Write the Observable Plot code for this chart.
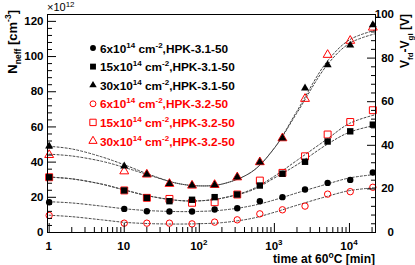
<!DOCTYPE html>
<html><head><meta charset="utf-8">
<script src="https://cdn.jsdelivr.net/npm/d3@7"></script>
<script src="https://cdn.jsdelivr.net/npm/@observablehq/plot@0.6"></script>
<style>
body{margin:0;background:#fff}
svg{font-family:"Liberation Sans",Arial,sans-serif;}
</style>
</head><body><div id="chart"></div>
<script>
// annealing times [min]
const times = [1, 10, 20, 40, 80, 160, 320, 640, 1280, 2560, 5120, 10240, 20480];
// Neff [1e12 cm^-3]
const circ31 = [17.2, 13.4, 12.1, 11.9, 11.9, 13.1, 13.8, 17.8, 20.1, 24.4, 28.2, 29.9, 34.1];
const sq31   = [31.4, 23.9, 19.7, 17.8, 18.6, 20.1, 21.6, 26.7, 33.4, 40.2, 51.7, 57.5, 61.3];
const tri31  = [49.0, 37.7, 33.0, 27.7, 26.7, 27.1, 31.4, 40.0, 53.6, 82.0, 95.3, 106.4, 118.0];
const circ32 = [9.7, 5.3, 5.3, 5.3, 4.9, 5.9, 7.2, 10.6, 12.9, 15.0, 21.8, 23.2, 25.7];
const sq32   = [31.4, 23.9, 19.7, 19.1, 16.9, 17.2, 21.6, 29.5, 33.9, 43.3, 55.7, 62.8, 69.5];
const tri32  = [44.1, 34.8, 33.0, 27.7, 26.7, 27.1, 31.4, 40.0, 53.6, 76.0, 101.0, 109.0, 116.5];

// fit curves
const fitTimes = [1, 2, 5, 10, 20, 50, 100, 200, 500, 1000, 2000, 5000, 10000, 22230];
const fitTri31  = [49, 47.5, 43, 38.5, 33.5, 28, 26.5, 27.5, 34.5, 48, 68, 95, 107.5, 113];
const fitTri32  = [44.5, 43.5, 40.5, 37, 33, 28, 26.5, 27.5, 34.5, 48, 69, 97, 109.5, 115];
const fitSq31   = [31.5, 30.5, 27.5, 24.2, 21, 18.3, 18, 19.5, 24, 31, 38.5, 50, 57, 61];
const fitSq32   = [31.5, 30.5, 27.5, 24.2, 21, 18.3, 18, 19.5, 24.5, 32, 41, 53, 62, 67];
const fitCirc31 = [17.5, 16.8, 15, 13.5, 12.5, 11.9, 12, 12.7, 15.2, 18.5, 22.5, 27.5, 31, 33];
const fitCirc32 = [9.8, 9, 7.2, 5.8, 5.1, 4.8, 5, 5.6, 8, 11.5, 15.5, 20.5, 23.8, 25.5];

const legendFluence = ["6", "15", "30", "6", "15", "30"];
const legendDevice = ["HPK-3.1-50", "HPK-3.1-50", "HPK-3.1-50", "HPK-3.2-50", "HPK-3.2-50", "HPK-3.2-50"];

const yLeftTicks = [0, 20, 40, 60, 80, 100, 120];
const yRightTicks = [0, 20, 40, 60, 80, 100];
const xTicks = [1, 10, 100, 1000, 10000];

const yMax = 123.9;      // left axis top (1e12)
const vMax = 100;        // right axis top (V)
const k = yMax / vMax;

const series = [
  {name: "c32", y: circ32, symbol: "circle", fill: "none", stroke: "#ff0000", r: 3.2},
  {name: "s32", y: sq32, symbol: "square", fill: "none", stroke: "#ff0000", r: 3.9},
  {name: "t32", y: tri32, symbol: "triangle", fill: "none", stroke: "#ff0000", r: 3.3},
  {name: "c31", y: circ31, symbol: "circle", fill: "black", stroke: "none", r: 3.2},
  {name: "s31", y: sq31, symbol: "square", fill: "black", stroke: "none", r: 3.6},
  {name: "t31", y: tri31, symbol: "triangle", fill: "black", stroke: "none", r: 3.0}
];
const fits = [fitTri31, fitTri32, fitSq31, fitSq32, fitCirc31, fitCirc32].flatMap((f, i) =>
  f.map((v, j) => ({t: fitTimes[j], n: v, s: i})));

const minorY = d3.range(0, yMax, 4).filter(v => v % 20 !== 0);
const minorV = d3.range(0, vMax, 4).filter(v => v % 20 !== 0).map(v => v * k);
const minorX = [];
for (let d = 1; d <= 10000; d *= 10) for (let m = 2; m <= 9; m++) if (d * m < 22230) minorX.push(d * m);

const plot = Plot.plot({
  width: 415, height: 265,
  marginLeft: 47, marginRight: 40, marginTop: 14, marginBottom: 33,
  x: {type: "log", domain: [0.95, 22230], label: null},
  y: {domain: [0, yMax], label: null},
  style: {fontFamily: "Liberation Sans, Arial, sans-serif", fontWeight: "bold", fontSize: "11.5px", background: "white", color: "black"},
  marks: [
    Plot.line(fits, {x: "t", y: "n", z: "s", stroke: "#444", strokeWidth: 1, strokeDasharray: "2,2", curve: "catmull-rom"}),
    ...series.map(s => Plot.dot(times.map((t, i) => ({t, n: s.y[i]})), {
      x: "t", y: "n", symbol: s.symbol, fill: s.fill, stroke: s.stroke, strokeWidth: 1, r: s.r
    })),
    Plot.frame({stroke: "black", strokeWidth: 1}),
    Plot.axisY(yLeftTicks, {anchor: "left", tickSize: -9, tickPadding: 13, tickFormat: d => d, fontSize: 11.5}),
    Plot.axisY(minorY, {anchor: "left", tickSize: -5, tickFormat: () => ""}),
    Plot.axisY(yRightTicks.map(v => v * k), {anchor: "right", tickSize: -9, tickFormat: () => ""}),
    Plot.axisY(minorV, {anchor: "right", tickSize: -5, tickFormat: () => ""}),
    Plot.axisX(xTicks, {anchor: "bottom", tickSize: -9, tickFormat: () => ""}),
    Plot.axisX(minorX, {anchor: "bottom", tickSize: -5, tickFormat: () => ""})
  ]
});
document.getElementById("chart").appendChild(plot);

const xs = plot.scale("x"), ys = plot.scale("y");
const svg = d3.select(plot);
const g = svg.append("g").attr("font-family", "Liberation Sans, Arial, sans-serif").attr("font-weight", "bold").attr("text-anchor", "start");

// right tick labels
yRightTicks.forEach(v => {
  g.append("text").attr("x", 394).attr("y", ys.apply(v * k) + 4).attr("text-anchor", "end").attr("font-size", 11.5).text(String(v));
});

// x tick labels
xTicks.forEach(t => {
  const e = Math.round(Math.log10(t));
  const tx = g.append("text").attr("x", xs.apply(t)).attr("y", 250).attr("text-anchor", "middle").attr("font-size", 11.5);
  if (e <= 1) tx.text(String(t));
  else { tx.append("tspan").text("10"); tx.append("tspan").attr("font-size", 8).attr("dy", -5).text(String(e)); }
});

// x title
const xt = g.append("text").attr("x", 375).attr("y", 263).attr("text-anchor", "end").attr("font-size", 12);
xt.append("tspan").text("time at 60");
xt.append("tspan").attr("font-size", 8.5).attr("dy", -5).text("o");
xt.append("tspan").attr("dy", 5).text("C [min]");

// left title
const yl = g.append("text").attr("transform", "translate(17,10) rotate(-90)").attr("text-anchor", "end").attr("font-size", 13);
yl.append("tspan").text("N");
yl.append("tspan").attr("font-size", 8.5).attr("dy", 4).text("neff");
yl.append("tspan").attr("dy", -4).text(" [cm");
yl.append("tspan").attr("font-size", 8.5).attr("dy", -6).text("-3");
yl.append("tspan").attr("dy", 6).text("]");

// right title
const yr = g.append("text").attr("transform", "translate(409,14) rotate(-90)").attr("text-anchor", "end").attr("font-size", 12);
yr.append("tspan").text("V");
yr.append("tspan").attr("font-size", 8).attr("dy", 4).text("fd");
yr.append("tspan").attr("dy", -4).text("-V");
yr.append("tspan").attr("font-size", 8).attr("dy", 4).text("gl");
yr.append("tspan").attr("dy", -4).text(" [V]");

// x 10^12
const ex = g.append("text").attr("x", 47).attr("y", 11).attr("font-size", 11).attr("font-weight", "normal");
ex.append("tspan").text("\u00d710");
ex.append("tspan").attr("font-size", 8).attr("dy", -4).text("12");

// legend
const legendSeries = [series[3], series[4], series[5], series[0], series[1], series[2]];
legendSeries.forEach((s, i) => {
  const yy = 48 + i * 18.6;
  const red = i >= 3;
  const sym = {circle: d3.symbolCircle, square: d3.symbolSquare, triangle: d3.symbolTriangle}[s.symbol];
  g.append("path").attr("transform", `translate(93,${yy})`)
    .attr("d", d3.symbol(sym, Math.PI * s.r * s.r * 0.85)())
    .attr("fill", s.fill).attr("stroke", s.stroke === "none" ? null : s.stroke).attr("stroke-width", 1);
  const t = g.append("text").attr("x", 100).attr("y", yy + 4.5).attr("text-anchor", "start").attr("font-size", 11.8).attr("fill", red ? "#ff0000" : "black");
  t.append("tspan").text(legendFluence[i] + "x10");
  t.append("tspan").attr("font-size", 8).attr("dy", -5).text("14");
  t.append("tspan").attr("dy", 5).text(" cm");
  t.append("tspan").attr("font-size", 8).attr("dy", -5).text("-2");
  t.append("tspan").attr("dy", 5).text("," + legendDevice[i]);
});
</script>
</body></html>
